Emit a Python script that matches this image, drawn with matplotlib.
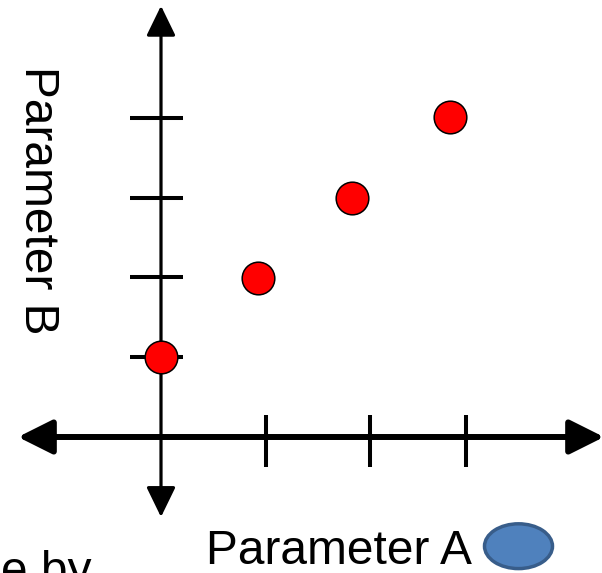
import matplotlib
matplotlib.use("Agg")
import matplotlib.pyplot as plt
from matplotlib.patches import FancyArrowPatch, Ellipse

# ---- data ----
point_x = [0.0, 0.97, 1.91, 2.89]
point_y = [1.0, 1.99, 2.99, 4.0]
xtick_pos = [1.05, 2.09, 3.05]
ytick_pos = [1.0, 2.0, 2.99, 3.99]
x_label = "Parameter A"
y_label = "Parameter B"
cut_text = "e by"

plt.rcParams['font.family'] = ['Liberation Sans', 'DejaVu Sans']

fig = plt.figure(figsize=(6.02, 5.73), dpi=100)
ax = fig.add_axes([0, 0, 1, 1])
ax.set_xlim(-1.61, 4.41)
ax.set_ylim(-1.7, 5.4625)
ax.axis('off')

# axis arrows
varrow = FancyArrowPatch((0.0, -1.0), (0.0, 5.39), arrowstyle='<|-|>,head_length=18.5,head_width=9',
                         mutation_scale=1, lw=2.3, color='black', shrinkA=0, shrinkB=0, zorder=2)
harrow = FancyArrowPatch((-1.43, 0.0), (4.43, 0.0), arrowstyle='<|-|>,head_length=21,head_width=10.5',
                         mutation_scale=1, lw=4.3, color='black', shrinkA=0, shrinkB=0, zorder=2)
ax.add_patch(varrow)
ax.add_patch(harrow)

# tick marks
for yt in ytick_pos:
    ax.plot([-0.31, 0.22], [yt, yt], color='black', lw=2.9, solid_capstyle='butt', zorder=2)
for xt in xtick_pos:
    ax.plot([xt, xt], [0.275, -0.375], color='black', lw=2.9, solid_capstyle='butt', zorder=2)

# data points
ax.plot(point_x, point_y, linestyle='none', marker='o', markersize=23.5, markerfacecolor='#ff0000',
        markeredgecolor='black', markeredgewidth=1.1, zorder=3)

# labels
ax.text(0.45, -1.5875, x_label, fontsize=34.5, ha='left', va='baseline', color='black')
ax.text(-1.36, 4.64, y_label, fontsize=34.5, rotation=270, rotation_mode='anchor',
        ha='left', va='baseline', color='black')
ax.text(-1.60, -1.85, cut_text, fontsize=34.5, ha='left', va='baseline', color='black', clip_on=False)

# blue ellipse next to x label
ax.add_patch(Ellipse((3.575, -1.365), 0.68, 0.56, facecolor='#4f81bd', edgecolor='#385d8a',
                     lw=2.5, zorder=3))

fig.savefig('out.png', dpi=100)
